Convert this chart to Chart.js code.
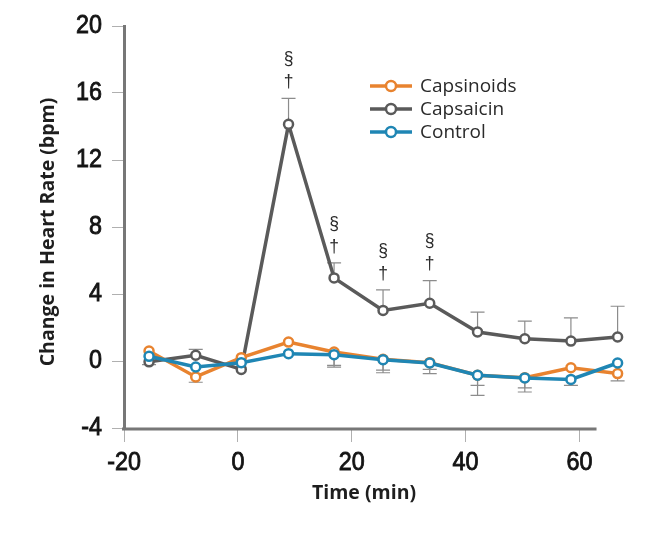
<!DOCTYPE html>
<html>
<head>
<meta charset="utf-8">
<script src="https://cdn.jsdelivr.net/npm/chart.js@4/dist/chart.umd.min.js"></script>
<style>
  html, body { margin: 0; padding: 0; background: #fff; }
  #wrap { width: 670px; height: 547px; }
</style>
</head>
<body>
<div id="wrap"><canvas id="chart" width="670" height="547"></canvas></div>
<script>
// time of each sample as placed on the figure (min)
const timeMin = [-15.6, -7.4, 0.6, 8.9, 16.9, 25.5, 33.7, 42.1, 50.4, 58.5, 66.7];

const capsinoids = [0.6, -0.95, 0.2, 1.13, 0.54, 0.1, -0.1, -0.85, -1.0, -0.4, -0.75];
const capsaicin  = [-0.05, 0.34, -0.5, 14.13, 4.96, 3.02, 3.45, 1.73, 1.33, 1.19, 1.43];
const control    = [0.28, -0.36, -0.1, 0.44, 0.38, 0.08, -0.12, -0.85, -1.01, -1.1, -0.12];

// error bars: capsaicin drawn upward, the others downward
const capsaicinErr  = [0, 0.36, 0, 1.55, 0.9, 1.23, 1.35, 1.19, 1.05, 1.39, 1.84];
const capsinoidsErr = [0, 0.32, 0, 0, 0.8, 0.8, 0.65, 1.2, 0.85, 0, 0.44];
const controlErr    = [0.5, 0, 0, 0, 0.74, 0.63, 0.38, 0.6, 0.6, 0.35, 0];

// significance marks over capsaicin
const sigMarks = [false, false, false, true, true, true, true, false, false, false, false];

const xTicks = [-20, 0, 20, 40, 60];
const yTicks = [-4, 0, 4, 8, 12, 16, 20];
const xAxisEnd = 63;

const xTitle = 'Time (min)';
const yTitle = 'Change in Heart Rate (bpm)';

const ORANGE = '#e8832f';
const GRAY = '#5a5a5a';
const BLUE = '#1f86b4';

const legendItems = [
  { label: 'Capsinoids', color: ORANGE },
  { label: 'Capsaicin', color: GRAY },
  { label: 'Control', color: BLUE }
];

const errGroups = [
  { vals: capsaicin, err: capsaicinErr, dir: 1 },
  { vals: capsinoids, err: capsinoidsErr, dir: -1 },
  { vals: control, err: controlErr, dir: -1 }
];

const TICK_FONT = '26.5px "Liberation Sans", Arial, sans-serif';
const TITLE_FONT = 'bold 19.5px "Open Sans", sans-serif';

// condensed text: squeeze horizontally, thicken a bit with a stroke
function tickText(ctx, str, px, py, align) {
  ctx.save();
  ctx.translate(px, py);
  ctx.scale(0.88, 1);
  ctx.textAlign = align;
  ctx.fillText(str, 0, 0);
  ctx.strokeText(str, 0, 0);
  ctx.restore();
}

const extras = {
  id: 'extras',
  beforeDatasetsDraw(chart) {
    const { ctx, scales: { x, y } } = chart;
    ctx.save();
    ctx.strokeStyle = '#8c8c8c';
    ctx.lineWidth = 1.2;
    errGroups.forEach(g => {
      g.vals.forEach((v, i) => {
        const e = g.err[i];
        if (!e) return;
        const px = x.getPixelForValue(timeMin[i]);
        const p0 = y.getPixelForValue(v);
        const p1 = y.getPixelForValue(v + g.dir * e);
        ctx.beginPath();
        ctx.moveTo(px, p0);
        ctx.lineTo(px, p1);
        ctx.moveTo(px - 7, p1);
        ctx.lineTo(px + 7, p1);
        ctx.stroke();
      });
    });
    ctx.restore();
  },
  afterDraw(chart) {
    const { ctx, chartArea, scales: { x, y } } = chart;
    ctx.save();
    // x axis line, ends short of the last samples
    ctx.strokeStyle = '#777';
    ctx.lineWidth = 3;
    ctx.beginPath();
    ctx.moveTo(chartArea.left - 2, chartArea.bottom + 1);
    ctx.lineTo(x.getPixelForValue(xAxisEnd), chartArea.bottom + 1);
    ctx.stroke();

    // tick labels
    ctx.fillStyle = '#141414';
    ctx.strokeStyle = '#141414';
    ctx.lineWidth = 0.9;
    ctx.font = TICK_FONT;
    ctx.textBaseline = 'middle';
    yTicks.forEach(v => tickText(ctx, String(v), 102, y.getPixelForValue(v), 'right'));
    xTicks.forEach(v => tickText(ctx, String(v), x.getPixelForValue(v), 463, 'center'));

    // axis titles
    ctx.font = TITLE_FONT;
    ctx.fillStyle = '#1e1e1e';
    ctx.textAlign = 'center';
    ctx.fillText(xTitle, 364, 493);
    ctx.save();
    ctx.translate(48, 232);
    ctx.rotate(-Math.PI / 2);
    ctx.fillText(yTitle, 0, 0);
    ctx.restore();

    // § and † over capsaicin
    ctx.fillStyle = '#2a2a2a';
    ctx.font = '17.5px "Liberation Sans", sans-serif';
    sigMarks.forEach((m, i) => {
      if (!m) return;
      const px = x.getPixelForValue(timeMin[i]);
      const top = y.getPixelForValue(capsaicin[i] + capsaicinErr[i]);
      ctx.fillText('†', px, top - 16);
      ctx.fillText('§', px, top - 39);
    });

    // legend
    ctx.font = '19px "Open Sans", sans-serif';
    ctx.textAlign = 'left';
    legendItems.forEach((it, k) => {
      const cy = 86 + k * 23;
      ctx.strokeStyle = it.color;
      ctx.lineWidth = 3.5;
      ctx.beginPath();
      ctx.moveTo(370, cy);
      ctx.lineTo(412, cy);
      ctx.stroke();
      ctx.beginPath();
      ctx.arc(391, cy, 5, 0, Math.PI * 2);
      ctx.fillStyle = '#fff';
      ctx.fill();
      ctx.lineWidth = 2.5;
      ctx.stroke();
      ctx.fillStyle = '#2a2a2a';
      ctx.fillText(it.label, 420, cy + 1);
    });
    ctx.restore();
  }
};

function series(label, vals, color, order) {
  return {
    label,
    data: vals.map((v, i) => ({ x: timeMin[i], y: v })),
    borderColor: color,
    backgroundColor: '#fff',
    borderWidth: 3.5,
    pointRadius: 4.5,
    pointBorderWidth: 2.5,
    pointBackgroundColor: '#fff',
    pointBorderColor: color,
    tension: 0,
    clip: false,
    order
  };
}

new Chart(document.getElementById('chart'), {
  type: 'line',
  data: {
    datasets: [
      series('Capsinoids', capsinoids, ORANGE, 1),
      series('Capsaicin', capsaicin, GRAY, 2),
      series('Control', control, BLUE, 0)
    ]
  },
  options: {
    responsive: false,
    animation: false,
    devicePixelRatio: 1,
    layout: { padding: { left: 0, top: 26, right: 45, bottom: 0 } },
    plugins: { legend: { display: false }, tooltip: { enabled: false } },
    scales: {
      x: {
        type: 'linear',
        min: -20,
        max: 68,
        afterBuildTicks: s => { s.ticks = xTicks.map(v => ({ value: v })); },
        afterFit: s => { s.height = 119; },
        grid: { drawOnChartArea: false, tickLength: 14, color: '#b0b0b0', lineWidth: 1 },
        border: { display: false },
        ticks: { display: false }
      },
      y: {
        min: -4,
        max: 20,
        afterBuildTicks: s => { s.ticks = yTicks.map(v => ({ value: v })); },
        afterFit: s => { s.width = 124; },
        grid: { drawOnChartArea: false, tickLength: 12, color: '#b0b0b0', lineWidth: 1 },
        border: { color: '#777', width: 3 },
        ticks: { display: false }
      }
    }
  },
  plugins: [extras]
});
</script>
</body>
</html>
